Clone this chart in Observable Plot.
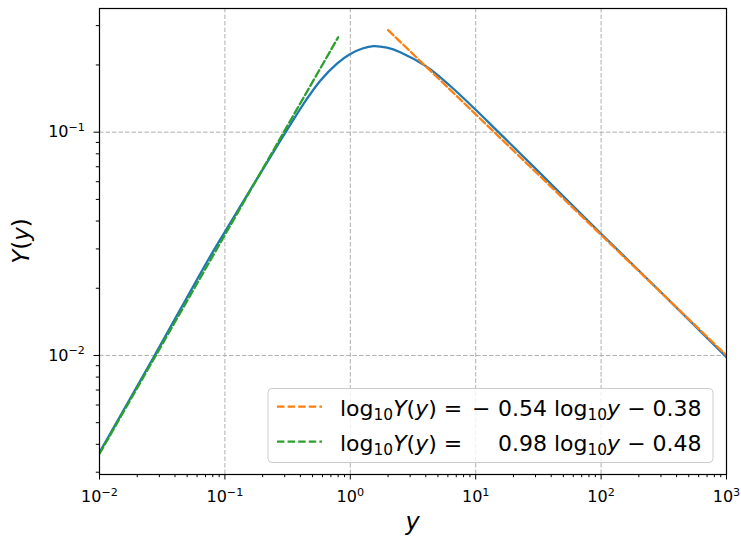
<!DOCTYPE html>
<html><head><meta charset="utf-8">
<script src="https://cdn.jsdelivr.net/npm/d3@7"></script>
<script src="https://cdn.jsdelivr.net/npm/@observablehq/plot@0.6"></script>
<style>
html,body{margin:0;padding:0;background:#fff;}
#chart{position:relative;width:741px;height:538px;}
</style></head><body><div id="chart"></div>
<script>
// Blue curve Y(y)
const curveX = [0.01, 0.0275, 0.0744, 0.1, 0.2, 0.3, 0.424, 0.576, 0.783, 1.0, 1.25, 1.53, 1.96, 2.5, 4.09, 6.27, 10, 15.2, 30, 100, 300, 1000];
const curveY = [0.00368, 0.0100, 0.0271, 0.0358, 0.068, 0.0985, 0.134, 0.170, 0.203, 0.224, 0.237, 0.243, 0.239, 0.228, 0.196, 0.161, 0.126, 0.100, 0.0687, 0.0351, 0.0192, 0.00983];
// Fitted power laws (dashed), end points
const fitHighX = [2, 1000];
const fitHighY = [0.2866, 0.0100];
const fitLowX = [0.01, 0.8];
const fitLowY = [0.00363, 0.266];
// Ticks
const xTicks = [1e-2, 1e-1, 1, 10, 100, 1000];
const xTickLabels = ["10^−2", "10^−1", "10^0", "10^1", "10^2", "10^3"];
const yTicks = [1e-2, 1e-1];
const yTickLabels = ["10^−2", "10^−1"];
// Legend
const legendColors = ["#ff7f0e", "#2ca02c"];
const legendSigns = ["−", ""];
const legendSlopes = ["0.54", "0.98"];
const legendIntercepts = ["0.38", "0.48"];

const xDomain = [1e-2, 1e3];
const yDomain = [0.00293, 0.358];

const xMinor = [];
for (let k = -2; k <= 2; k++) for (let m = 2; m <= 9; m++) xMinor.push(m * Math.pow(10, k));
const yMinor = [];
for (let k = -3; k <= -1; k++) for (let m = 2; m <= 9; m++) { const v = m * Math.pow(10, k); if (v >= yDomain[0] && v <= yDomain[1]) yMinor.push(v); }

const curve = curveX.map((x, i) => ({x, Y: curveY[i]}));
const fitHigh = fitHighX.map((x, i) => ({x, Y: fitHighY[i]}));
const fitLow = fitLowX.map((x, i) => ({x, Y: fitLowY[i]}));
const xLab = new Map(xTicks.map((v, i) => [v, xTickLabels[i]]));
const yLab = new Map(yTicks.map((v, i) => [v, yTickLabels[i]]));

const dash = "7.4,3.2";
const lw = 2.3;
const gridStyle = {stroke: "#b0b0b0", strokeOpacity: 1, strokeWidth: 1, strokeDasharray: "4.5,2"};

const svg = Plot.plot({
  width: 741, height: 538,
  marginLeft: 99, marginRight: 15, marginTop: 8, marginBottom: 64,
  x: {type: "log", domain: xDomain},
  y: {type: "log", domain: yDomain},
  style: {fontFamily: "DejaVu Sans", fontSize: "16px", color: "black", background: "white", overflow: "visible"},
  marks: [
    Plot.gridX(xTicks, gridStyle),
    Plot.gridY(yTicks, gridStyle),
    Plot.line(curve, {x: "x", y: "Y", stroke: "#1f77b4", strokeWidth: lw, curve: "catmull-rom", clip: true}),
    Plot.line(fitHigh, {x: "x", y: "Y", stroke: "#ff7f0e", strokeWidth: lw, strokeDasharray: dash, clip: true}),
    Plot.line(fitLow, {x: "x", y: "Y", stroke: "#2ca02c", strokeWidth: lw, strokeDasharray: dash, clip: true}),
    Plot.axisX(xTicks, {tickFormat: d => xLab.get(d), tickSize: 5.5, tickPadding: 11, label: null, fontSize: 16}),
    Plot.axisX(xMinor, {tickFormat: () => "", tickSize: 3.2, label: null}),
    Plot.axisY(yTicks, {tickFormat: d => yLab.get(d), tickSize: 5.5, tickPadding: 9, label: null, fontSize: 16}),
    Plot.axisY(yMinor, {tickFormat: () => "", tickSize: 3.2, label: null}),
    Plot.frame({stroke: "black", strokeWidth: 1.2})
  ]
});
document.getElementById("chart").appendChild(svg);

const S = d3.select(svg);
// superscript exponents in tick labels
S.selectAll("text").each(function() {
  const t = this.textContent;
  const m = /^10\^(.*)$/.exec(t);
  if (!m) return;
  const el = d3.select(this);
  el.text("");
  el.append("tspan").text("10");
  el.append("tspan").attr("font-size", "11.2px").attr("dy", "-6.5px").text(m[1]);
});

// axis labels
S.append("text").attr("x", 412.5).attr("y", 530).attr("text-anchor", "middle")
  .attr("font-family", "DejaVu Sans").attr("font-size", 24).attr("font-style", "italic").text("y");
const yl = S.append("text").attr("transform", "translate(29,241) rotate(-90)").attr("text-anchor", "middle")
  .attr("font-family", "DejaVu Sans").attr("font-size", 23);
yl.append("tspan").attr("font-style", "italic").text("Y");
yl.append("tspan").text("(");
yl.append("tspan").attr("font-style", "italic").text("y");
yl.append("tspan").text(")");

// legend
const fs = 22, fsSub = 15.4, subDy = 4.5;
const L = S.append("g").attr("font-family", "DejaVu Sans").attr("font-size", fs).attr("text-anchor", "start");
L.append("rect").attr("x", 268).attr("y", 388.5).attr("width", 445).attr("height", 74)
  .attr("rx", 4).attr("fill", "white").attr("fill-opacity", 0.8).attr("stroke", "#cccccc");
function mathLog(g, x, y, isY) {
  const t = g.append("text").attr("x", x).attr("y", y).attr("text-anchor", "start");
  t.append("tspan").text("log");
  t.append("tspan").attr("font-size", fsSub).attr("dy", subDy).text("10");
  t.append("tspan").attr("dy", -subDy).attr("font-style", "italic").text(isY ? "Y" : "y");
  return t;
}
legendColors.forEach((c, i) => {
  const cy = 406.7 + i * 35;
  const base = cy + 9;
  L.append("line").attr("x1", 277).attr("x2", 322).attr("y1", cy).attr("y2", cy)
    .attr("stroke", c).attr("stroke-width", lw).attr("stroke-dasharray", dash);
  const a = mathLog(L, 340, base, true);
  a.append("tspan").text("(");
  a.append("tspan").attr("font-style", "italic").text("y");
  a.append("tspan").text(") =");
  if (legendSigns[i]) L.append("text").attr("x", 472).attr("y", base).attr("text-anchor", "start").text(legendSigns[i]);
  const b = L.append("text").attr("x", 498).attr("y", base).attr("text-anchor", "start");
  b.append("tspan").text(legendSlopes[i] + " log");
  b.append("tspan").attr("font-size", fsSub).attr("dy", subDy).text("10");
  b.append("tspan").attr("dy", -subDy).attr("font-style", "italic").text("y");
  b.append("tspan").text(" − " + legendIntercepts[i]);
});
</script></body></html>
